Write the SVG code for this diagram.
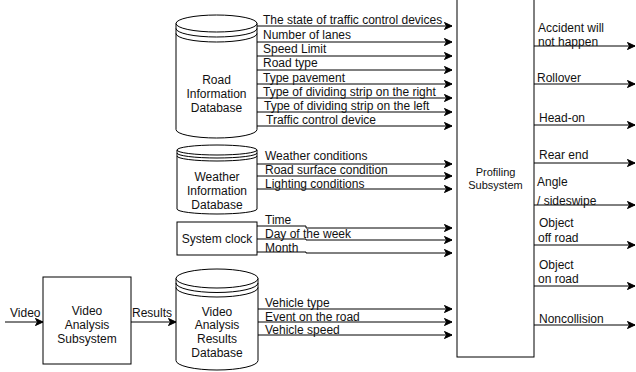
<svg xmlns="http://www.w3.org/2000/svg" width="636" height="372" viewBox="0 0 636 372">
<style>
text{font-family:"Liberation Sans",Arial,Helvetica,sans-serif;font-size:12px;fill:#111}
.c{text-anchor:middle}
.s{font-size:11px}
.shape{fill:#fff;stroke:#000;stroke-width:1}
.line{fill:none;stroke:#000;stroke-width:1}
.edge{fill:none;stroke:#000;stroke-width:1;marker-end:url(#arr)}
</style>
<defs>
<marker id="arr" markerUnits="userSpaceOnUse" markerWidth="10" markerHeight="10" refX="8" refY="4" orient="auto">
<path d="M0.5,0.5 L8,4 L0.5,7.5 L2.5,4 Z" fill="#000" stroke="#000" stroke-width="1"/>
</marker>
</defs>
<rect width="636" height="372" fill="#fff"/>

<g id="road-db">
<path class="shape" d="M176,23.5 A40.5,8.5 0 0 1 257,23.5 V129.5 A40.5,8.5 0 0 1 176,129.5 Z"/>
<path class="line" d="M176,23.5 A40.5,8.5 0 0 0 257,23.5 M176,28.5 A40.5,8.5 0 0 0 257,28.5 M176,33.5 A40.5,8.5 0 0 0 257,33.5"/>
<text class="c" x="216.5" y="84">Road</text>
<text class="c" x="216.5" y="98">Information</text>
<text class="c" x="216.5" y="112">Database</text>
</g>

<g id="weather-db">
<path class="shape" d="M177,150 A40,5 0 0 1 257,150 V209 A40,5 0 0 1 177,209 Z"/>
<path class="line" d="M177,150 A40,5 0 0 0 257,150 M177,153 A40,5 0 0 0 257,153 M177,156 A40,5 0 0 0 257,156"/>
<text class="c" x="217" y="181">Weather</text>
<text class="c" x="217" y="195">Information</text>
<text class="c" x="217" y="209">Database</text>
</g>

<g id="system-clock">
<rect class="shape" x="177" y="222" width="80" height="33"/>
<text class="c" x="217" y="243">System clock</text>
</g>

<g id="video-analysis-subsystem">
<rect class="shape" x="43" y="277" width="88" height="87"/>
<text class="c" x="87" y="315">Video</text>
<text class="c" x="87" y="329">Analysis</text>
<text class="c" x="87" y="343">Subsystem</text>
</g>

<g id="video-results-db">
<path class="shape" d="M176,278.5 A41,9.5 0 0 1 258,278.5 V360.5 A41,9.5 0 0 1 176,360.5 Z"/>
<path class="line" d="M176,278.5 A41,9.5 0 0 0 258,278.5 M176,283 A41,9.5 0 0 0 258,283 M176,287.5 A41,9.5 0 0 0 258,287.5"/>
<text class="c" x="217" y="316">Video</text>
<text class="c" x="217" y="329">Analysis</text>
<text class="c" x="217" y="343">Results</text>
<text class="c" x="217" y="357">Database</text>
</g>

<g id="profiling-subsystem">
<rect class="shape" x="457" y="-1" width="77" height="358"/>
<text class="c s" x="495.5" y="176">Profiling</text>
<text class="c s" x="495.5" y="189">Subsystem</text>
</g>

<g id="connectors">
<path class="edge" d="M257,26 H452"/>
<path class="edge" d="M257,42 H452"/>
<path class="edge" d="M257,56 H452"/>
<path class="edge" d="M257,70 H452"/>
<path class="edge" d="M257,84 H452"/>
<path class="edge" d="M257,98 H452"/>
<path class="edge" d="M257,112 H452"/>
<path class="edge" d="M257,126 H452"/>
<path class="edge" d="M257,164 H452"/>
<path class="edge" d="M257,176 H452"/>
<path class="edge" d="M257,189 H452"/>
<path class="edge" d="M257,226 H306 V228 H452"/>
<path class="edge" d="M257,239 H306 V240 H452"/>
<path class="edge" d="M257,252 H306 V253 H452"/>
<path class="edge" d="M258,309 H452"/>
<path class="edge" d="M258,322 H452"/>
<path class="edge" d="M258,335 H452"/>
<path class="edge" d="M5,322 H43"/>
<path class="edge" d="M131,322 H176"/>
<path class="edge" d="M534,46 H635"/>
<path class="edge" d="M534,84 H635"/>
<path class="edge" d="M534,125 H635"/>
<path class="edge" d="M534,163 H635"/>
<path class="edge" d="M534,205 H635"/>
<path class="edge" d="M534,245 H635"/>
<path class="edge" d="M534,286 H635"/>
<path class="edge" d="M534,325 H635"/>

<text x="263" y="24">The state of traffic control devices</text>
<text x="263" y="39">Number of lanes</text>
<text x="263" y="53">Speed Limit</text>
<text x="263" y="67">Road type</text>
<text x="263" y="82">Type pavement</text>
<text x="263" y="96">Type of dividing strip on the right</text>
<text x="264" y="110">Type of dividing strip on the left</text>
<text x="266" y="124">Traffic control device</text>
<text x="265" y="160">Weather conditions</text>
<text x="265" y="174">Road surface condition</text>
<text x="265" y="188">Lighting conditions</text>
<text x="265" y="224">Time</text>
<text x="265" y="238">Day of the week</text>
<text x="265" y="252">Month</text>
<text x="265" y="307">Vehicle type</text>
<text x="265" y="321">Event on the road</text>
<text x="265" y="334">Vehicle speed</text>
<text x="10" y="317">Video</text>
<text x="132" y="317">Results</text>
<text x="538" y="32">Accident will</text>
<text x="538" y="46">not happen</text>
<text x="537" y="82">Rollover</text>
<text x="539" y="122">Head-on</text>
<text x="539" y="159">Rear end</text>
<text x="537" y="186">Angle</text>
<text x="537" y="205">/ sideswipe</text>
<text x="539" y="227">Object</text>
<text x="538" y="242">off road</text>
<text x="539" y="269">Object</text>
<text x="538" y="283">on road</text>
<text x="539" y="323">Noncollision</text>
</g>
</svg>
